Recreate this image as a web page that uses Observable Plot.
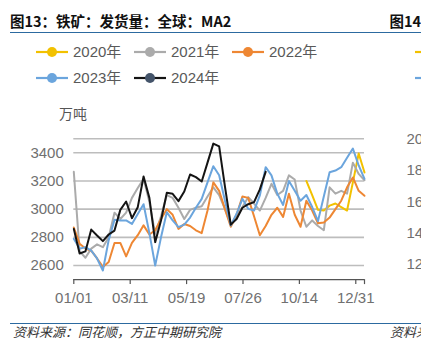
<!DOCTYPE html>
<html><head><meta charset="utf-8">
<script src="https://cdn.jsdelivr.net/npm/d3@7"></script>
<script src="https://cdn.jsdelivr.net/npm/@observablehq/plot@0.6"></script>
<style>
html,body{margin:0;padding:0;background:#fff;}
body{width:421px;height:356px;overflow:hidden;position:relative;font-family:"Liberation Sans",Arial,"Noto Sans CJK SC",sans-serif;}
.abs{position:absolute;white-space:nowrap;}
.ttl{font-family:"Noto Sans CJK SC",sans-serif;font-weight:700;font-size:14.5px;line-height:14.5px;color:#111;}
.rule{position:absolute;height:1.7px;background:#2c6aa0;}
.foot{font-family:"Noto Sans CJK SC",sans-serif;font-style:italic;font-size:13px;line-height:13px;color:#333;}
.leg{display:flex;align-items:center;height:20px;font-size:15px;line-height:20px;color:#595959;font-family:"Liberation Sans",Arial,"Noto Sans CJK SC",sans-serif;}
.leg svg{margin-right:5px;}
.unit{font-family:"Noto Sans CJK SC",sans-serif;font-size:14px;line-height:14px;color:#555;}
.rtick{font-size:15px;line-height:15px;color:#707070;}
</style></head><body>
<script>
// ---- data (weekly, MA2, 万吨) ----
const years = ["2020年", "2021年", "2022年", "2023年", "2024年"];
const lineColors = ["#F2C100", "#ABABAB", "#EE8733", "#6BA5DD", "#141414"];
const markerColors = ["#F2C100", "#ABABAB", "#EE8733", "#6BA5DD", "#44546A"];
const xLabels = ["01/01", "03/11", "05/19", "07/26", "10/14", "12/31"];
const yTicks = [2600, 2800, 3000, 3200, 3400];
const gridVals = [2600, 2800, 3000, 3200, 3400, 3500];

const s2020 = [null,null,null,null,null,null,null,null,null,null,
  null,null,null,null,null,null,null,null,null,null,
  null,null,null,null,null,null,null,null,null,null,
  null,null,null,null,null,null,null,null,null,null,
  3200,3100,2995,2990,3025,3040,3015,2990,3190,3395,3260];
const s2021 = [3265,2700,2655,2720,2750,2730,2800,2975,2930,2975,
  3080,3150,3215,3050,2825,2950,3100,3080,3010,2930,
  2995,3010,3020,3090,3155,3100,3000,2890,2950,3015,
  3085,3040,2990,3080,3180,3100,3130,3240,3210,2990,
  2875,2920,2880,2850,3155,3110,3130,3110,3330,3250,3205];
const s2022 = [2870,2755,2720,2705,2650,2590,2625,2760,2760,2665,
  2760,2815,2885,2820,2850,2930,3000,2960,2860,2895,
  2880,2850,2830,2990,3190,3130,3000,2875,2960,3090,
  3080,2950,2815,2880,2960,3010,2945,3110,2960,2875,
  3060,2990,2900,2905,2940,3000,3060,3155,3225,3130,3095];
const s2023 = [2790,2720,2730,2705,2650,2565,2780,2925,2920,2920,
  2895,2965,3035,2830,2600,2800,2978,2920,2872,2890,
  2940,3010,3073,3190,3305,3240,3060,2884,2967,3073,
  3002,2990,3097,3298,3240,3110,3030,3200,3130,3060,
  3100,3015,2915,3090,3262,3274,3298,3365,3430,3310,3215];
const s2024 = [2860,2685,2700,2855,2813,2773,2820,2848,2995,3054,
  2936,3014,3232,3080,2766,2919,3116,3109,3057,3125,
  3246,3227,3196,3330,3465,3445,3160,2890,2930,3010,
  3035,3050,3140,3265,null,null,null,null,null,null,
  null,null,null,null,null,null,null,null,null,null,null];
const series = [s2020, s2021, s2022, s2023, s2024];

// ---- layout ----
const W = 421, H = 356;
const tickEvery = 9.7;           // x-label spacing in weeks
const xMax = s2021.length - 1;
const xTickPos = xLabels.map((_, k) => k * tickEvery).concat([xMax]);
const tickText = (d, k) => xLabels[k] ?? "";

const chart = Plot.plot({
  width: W, height: H,
  marginLeft: 73.3, marginRight: 57, marginTop: 138.2, marginBottom: 76.9,
  x: {domain: [0, xMax], label: null},
  y: {domain: [2500, 3500], label: null},
  style: {background: "transparent", fontFamily: '"Liberation Sans", Arial, sans-serif', fontSize: "15px", overflow: "visible"},
  marks: [
    Plot.ruleY(gridVals, {x1: 0, x2: xMax, stroke: "#bdbdbd", strokeWidth: 1.6}),
    Plot.ruleY([2500], {x1: 0, x2: xMax, stroke: "#555", strokeWidth: 1.3}),
    Plot.axisY(yTicks, {tickSize: 0, tickPadding: 10, fontSize: 15, fill: "#707070", label: null, tickFormat: d => String(d)}),
    Plot.axisX(xTickPos, {tickSize: 5, tickPadding: 7.3, fontSize: 15, fill: "#707070", stroke: "#555", strokeWidth: 1.2, label: null, tickFormat: tickText}),
    ...series.map((s, k) => Plot.line(s.map((v, i) => ({i, v})), {
      x: "i", y: "v", stroke: lineColors[k], strokeWidth: 2, strokeLinejoin: "round", curve: "linear"
    }))
  ]
});
chart.classList.add("abs");
chart.style.left = "0px"; chart.style.top = "0px";
document.body.appendChild(chart);

function addDiv(cls, text, left, top) {
  const d = document.createElement("div");
  d.className = "abs " + cls;
  d.textContent = text;
  d.style.left = left + "px"; d.style.top = top + "px";
  document.body.appendChild(d);
  return d;
}
function addRule(top) {
  const r = document.createElement("div");
  r.className = "rule";
  r.style.left = "10px"; r.style.top = top + "px"; r.style.width = (W - 10) + "px";
  document.body.appendChild(r);
}

// titles and frame lines
addDiv("ttl", "图13：铁矿：发货量：全球：MA2", 10, 13.6);
addDiv("ttl", "图14", 389.5, 13.6);
addRule(31.5);
addRule(322.5);
addDiv("foot", "资料来源：同花顺，方正中期研究院", 13, 324.5);
addDiv("foot", "资料来源：同花顺，方正中期研究院", 390, 324.5);
addDiv("unit", "万吨", 59, 105.5);

// legend
years.forEach((y, k) => {
  const col = k % 3, row = Math.floor(k / 3);
  const item = document.createElement("div");
  item.className = "abs leg";
  item.style.left = (36 + col * 98) + "px";
  item.style.top = (51.7 + row * 26.3 - 10) + "px";
  const svg = d3.create("svg").attr("width", 32).attr("height", 12);
  svg.append("line").attr("x1", 0).attr("x2", 32).attr("y1", 6).attr("y2", 6)
    .attr("stroke", lineColors[k]).attr("stroke-width", 2.2);
  svg.append("circle").attr("cx", 16).attr("cy", 6).attr("r", 5).attr("fill", markerColors[k]);
  item.appendChild(svg.node());
  const t = document.createElement("span"); t.textContent = y;
  item.appendChild(t);
  document.body.appendChild(item);
});

// neighbouring panel (cropped at the right edge)
const nextLegend = ["#F2C100", "#6BA5DD"];
nextLegend.forEach((c, k) => {
  const s = d3.create("svg").attr("width", 20).attr("height", 4)
    .style("position", "absolute").style("left", "415px").style("top", (51.7 + k * 26.3 - 2) + "px");
  s.append("line").attr("x1", 0).attr("x2", 20).attr("y1", 2).attr("y2", 2).attr("stroke", c).attr("stroke-width", 2.2);
  document.body.appendChild(s.node());
});
const nextTicks = ["2000", "1800", "1600", "1400", "1200"];
nextTicks.forEach((t, k) => addDiv("rtick", t, 406.5, 138.6 + k * 31.25 - 7.5));
</script>
</body></html>
